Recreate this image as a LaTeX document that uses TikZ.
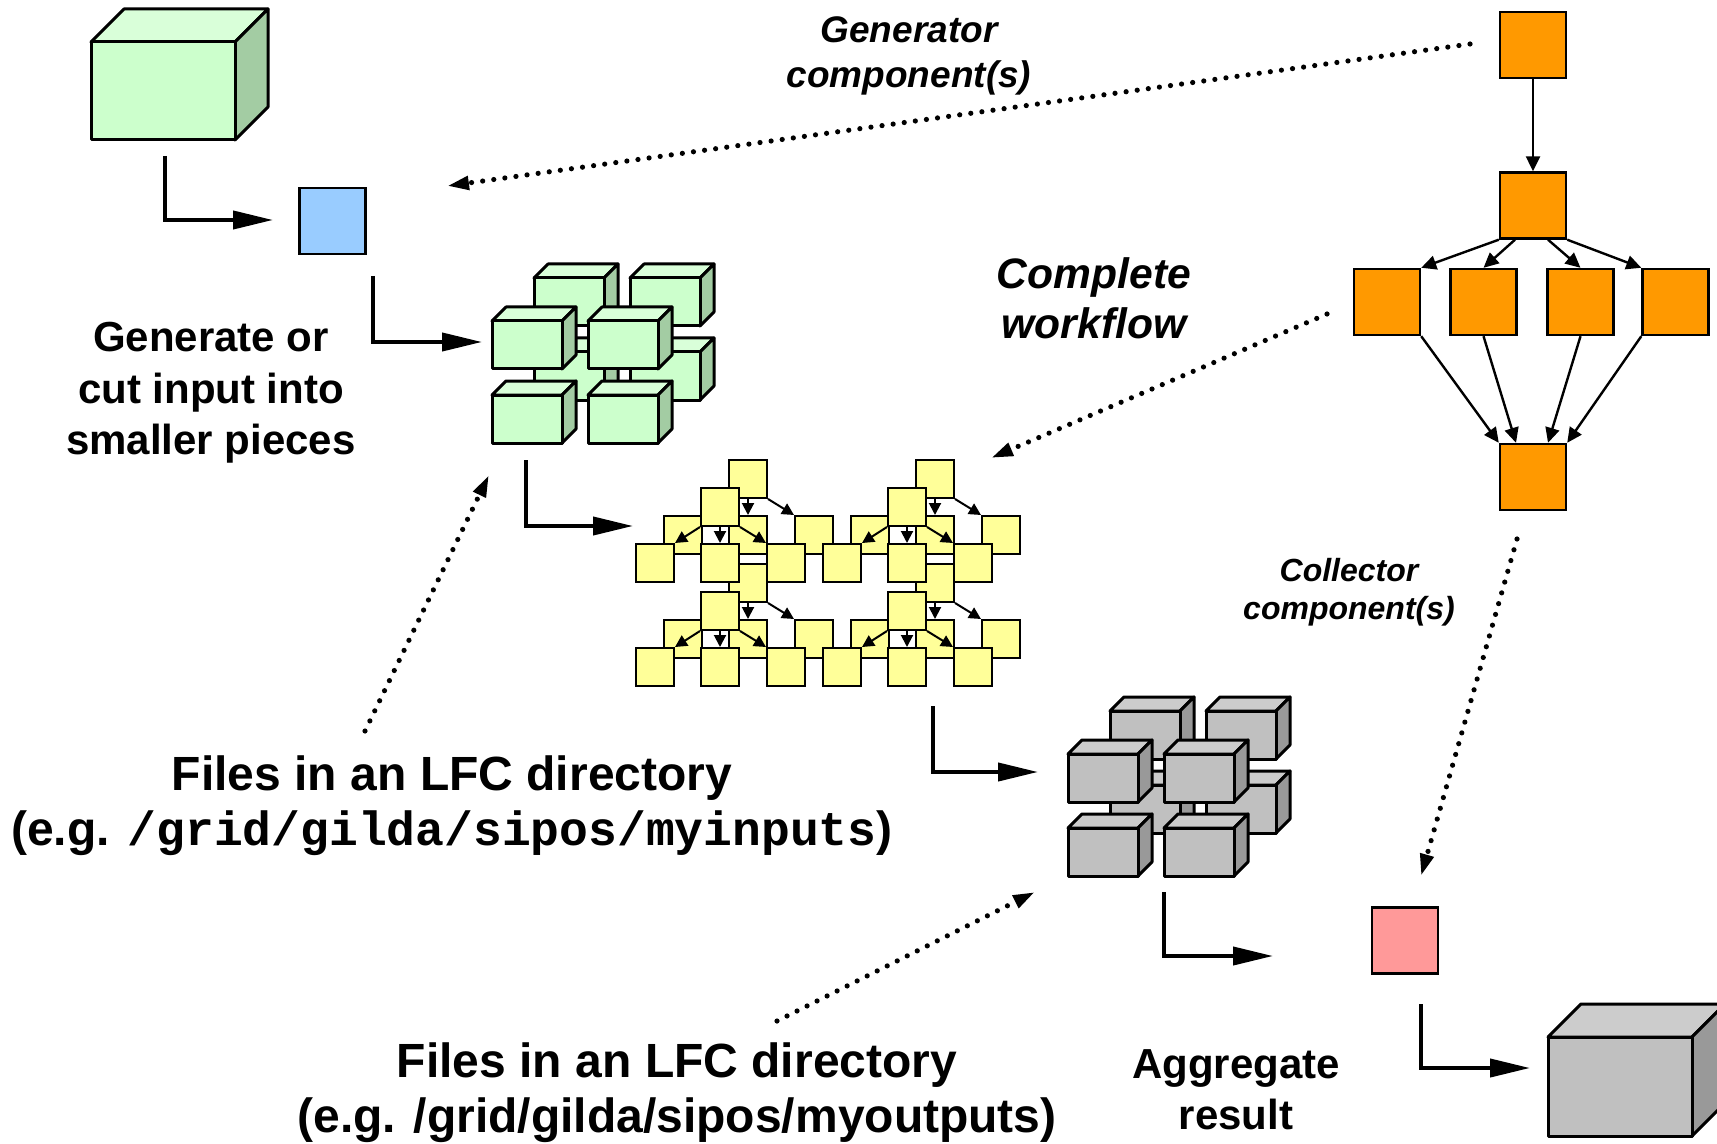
\documentclass[tikz,border=0pt]{standalone}
\usepackage{fontspec}
\setmainfont{Liberation Sans}
\setmonofont{Liberation Mono}
\usetikzlibrary{arrows.meta,calc}

\definecolor{cubegreen}{HTML}{CCFFCC}
\definecolor{cubegreentop}{HTML}{D9FFD9}
\definecolor{cubegreenside}{HTML}{A3CCA3}
\definecolor{cubegray}{HTML}{C0C0C0}
\definecolor{cubegraytop}{HTML}{CCCCCC}
\definecolor{cubegrayside}{HTML}{999999}
\definecolor{pieceblue}{HTML}{99CCFF}
\definecolor{resultpink}{HTML}{FF9999}
\definecolor{jobyellow}{HTML}{FFFF99}
\definecolor{joborange}{HTML}{FF9900}

\newcommand{\boxcube}[6]{%
  \filldraw[cubeline, fill=#6top] (#1,#2) -- ++(#5,-#5) -- ++(#3,0) -- ++(-#5,#5) -- cycle;
  \filldraw[cubeline, fill=#6side] (#1+#3,#2) -- ++(#5,-#5) -- ++(0,#4) -- ++(-#5,#5) -- cycle;
  \filldraw[cubeline, fill=#6] (#1,#2) rectangle ++(#3,#4);
}
\newcommand{\cubecluster}[3]{%
  \boxcube{#1+42}{#2-43}{70}{48}{14}{#3}
  \boxcube{#1+138}{#2-43}{70}{48}{14}{#3}
  \boxcube{#1+42}{#2+31}{70}{48}{14}{#3}
  \boxcube{#1+138}{#2+31}{70}{48}{14}{#3}
  \boxcube{#1}{#2}{70}{48}{14}{#3}
  \boxcube{#1+96}{#2}{70}{48}{14}{#3}
  \boxcube{#1}{#2+74}{70}{48}{14}{#3}
  \boxcube{#1+96}{#2+74}{70}{48}{14}{#3}
}

\begin{document}
\begin{tikzpicture}[x=0.5pt, y=-0.5pt,
    cubeline/.style={draw=black, line width=1.5pt, line join=round},
    piece/.style={draw=black, line width=1.3pt, minimum size=33pt, inner sep=0pt},
    job/.style={draw=black, fill=joborange, line width=1.2pt, minimum size=33pt, inner sep=0pt},
    subjob/.style={draw=black, fill=jobyellow, line width=1pt, minimum size=19pt, inner sep=0pt},
    jobarrow/.style={line width=1.2pt, -{Triangle[length=7.5pt,width=7pt]}},
    subarrow/.style={line width=1pt, -{Triangle[length=6pt,width=6pt]}},
    steparrow/.style={line width=2pt, -{Triangle[length=20pt,width=9pt]}},
    pointer/.style={line width=2.6pt, line cap=round, dash pattern=on 0pt off 5.6pt, -{Triangle[length=11pt,width=6.5pt]}},
    lbl/.style={align=center, inner sep=0pt}]
        \useasboundingbox (0,0) rectangle (1717,1144);
        \fill[white] (0,0) rectangle (1717,1144);
        \boxcube{91}{42}{144}{98}{33}{cubegreen}
        \node (split) [piece, fill=pieceblue] at (332.5,221) {};
        \cubecluster{492}{321}{cubegreen}
        \foreach \u/\ox/\oy in {1/701/488, 2/888/488, 3/701/592, 4/888/592} {
                \node (b\u t) [subjob] at (\ox+47,\oy-9) {};
                \node (b\u l) [subjob] at (\ox-18,\oy+47) {};
                \node (b\u m) [subjob] at (\ox+47,\oy+47) {};
                \node (b\u r) [subjob] at (\ox+113,\oy+47) {};
                \draw (b\u t.south west) edge [subarrow] (b\u l.north east);
                \draw (b\u t) edge [subarrow] (b\u m);
                \draw (b\u t.south east) edge [subarrow] (b\u r.north west);
        }
        \foreach \u/\ox/\oy in {1/701/488, 2/888/488, 3/701/592, 4/888/592} {
                \node (f\u t) [subjob] at (\ox+19,\oy+19) {};
                \node (f\u l) [subjob] at (\ox-46,\oy+75) {};
                \node (f\u m) [subjob] at (\ox+19,\oy+75) {};
                \node (f\u r) [subjob] at (\ox+85,\oy+75) {};
                \draw (f\u t.south west) edge [subarrow] (f\u l.north east);
                \draw (f\u t) edge [subarrow] (f\u m);
                \draw (f\u t.south east) edge [subarrow] (f\u r.north west);
        }
        \cubecluster{1068}{754}{cubegray}
        \node (merge) [piece, fill=resultpink] at (1405,940.5) {};
        \boxcube{1548}{1037}{144}{99}{33}{cubegray}
        \node (genjob) [job] at (1533,45) {};
        \node (forkjob) [job] at (1533,205.5) {};
        \node (par1) [job] at (1387,302) {};
        \node (par2) [job] at (1483.5,302) {};
        \node (par3) [job] at (1580.5,302) {};
        \node (par4) [job] at (1675.5,302) {};
        \node (joinjob) [job] at (1533,477) {};
        \draw (genjob) edge [jobarrow] (forkjob);
        \draw (forkjob.south west) edge [jobarrow] (par1.north east);
        \draw ($(forkjob.south)+(-18,0)$) edge [jobarrow] (par2.north);
        \draw ($(forkjob.south)+(15,0)$) edge [jobarrow] (par3.north);
        \draw (forkjob.south east) edge [jobarrow] (par4.north west);
        \draw (par1.south east) edge [jobarrow] (joinjob.north west);
        \draw (par2.south) edge [jobarrow] ($(joinjob.north)+(-17,0)$);
        \draw (par3.south) edge [jobarrow] ($(joinjob.north)+(15,0)$);
        \draw (par4.south west) edge [jobarrow] (joinjob.north east);
        \node (gentxt) [lbl, font=\bfseries\itshape\fontsize{18.5}{22.5}\selectfont] at (909,56) {Generator\\component(s)};
        \node (wftxt) [lbl, font=\bfseries\itshape\fontsize{21.3}{25}\selectfont] at (1094,298) {Complete\\workflow};
        \node (cuttxt) [lbl, font=\bfseries\fontsize{21}{25.75}\selectfont] at (211,393) {Generate or\\cut input into\\smaller pieces};
        \node (intxt) [lbl, font=\bfseries\fontsize{24}{27.5}\selectfont] at (452,806) {Files in an LFC directory\\(e.g. {\ttfamily /grid/gilda/sipos/myinputs})};
        \node (coltxt) [lbl, font=\bfseries\itshape\fontsize{16}{19}\selectfont] at (1349,592) {Collector\\component(s)};
        \node (outtxt) [lbl, font=\bfseries\fontsize{24}{27.5}\selectfont] at (677,1093) {Files in an LFC directory\\(e.g. /grid/gilda/sipos/myoutputs)};
        \node (aggtxt) [lbl, font=\bfseries\fontsize{21}{25.5}\selectfont] at (1236,1090) {Aggregate\\result};
        \coordinate (s1) at (165,156);
        \coordinate (e1) at (273,220);
        \coordinate (s2) at (373,276);
        \coordinate (e2) at (482,342);
        \coordinate (s3) at (526,460);
        \coordinate (e3) at (633,526);
        \coordinate (s4) at (933,706);
        \coordinate (e4) at (1038,772);
        \coordinate (s5) at (1164,892);
        \coordinate (e5) at (1273,956);
        \coordinate (s6) at (1421,1004);
        \coordinate (e6) at (1530,1068);
        \draw [steparrow] (s1) |- (e1);
        \draw [steparrow] (s2) |- (e2);
        \draw [steparrow] (s3) |- (e3);
        \draw [steparrow] (s4) |- (e4);
        \draw [steparrow] (s5) |- (e5);
        \draw [steparrow] (s6) |- (e6);
        \coordinate (g0) at (1470,44);
        \coordinate (g1) at (447,186);
        \coordinate (c0) at (1327,314);
        \coordinate (c1) at (991,458);
        \coordinate (i0) at (365,731);
        \coordinate (i1) at (489,475);
        \coordinate (u0) at (777,1021);
        \coordinate (u1) at (1035,892);
        \coordinate (k0) at (1517,539);
        \coordinate (k1) at (1421,876);
        \draw (g0) edge [pointer] (g1);
        \draw (c0) edge [pointer] (c1);
        \draw (i0) edge [pointer] (i1);
        \draw (u0) edge [pointer] (u1);
        \draw (k0) edge [pointer] (k1);
\end{tikzpicture}
\end{document}
